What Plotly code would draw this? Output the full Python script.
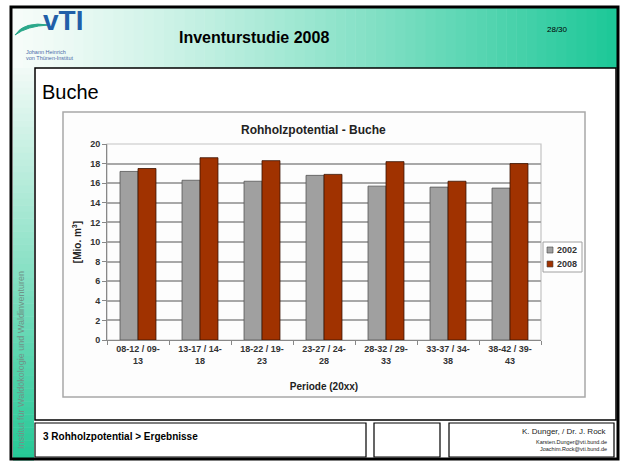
import plotly.graph_objects as go

W, H = 621, 462
L, R, T, B = 107, 80, 144, 122   # plot area 107..541 x 144..340

# data
perioden = ["08-12 / 09-<br>13", "13-17 / 14-<br>18", "18-22 / 19-<br>23", "23-27 / 24-<br>28",
            "28-32 / 29-<br>33", "33-37 / 34-<br>38", "38-42 / 39-<br>43"]
werte_2002 = [17.2, 16.3, 16.2, 16.8, 15.7, 15.6, 15.5]
werte_2008 = [17.5, 18.6, 18.3, 16.9, 18.2, 16.2, 18.0]
jahre = ["2002", "2008"]
farben = ["#a0a0a0", "#a03200"]
y_ticks = [0, 2, 4, 6, 8, 10, 12, 14, 16, 18, 20]

PW, PH = W - L - R, H - T - B


# pixel -> paper (paper is relative to the plot area in plotly)
def px(x):
    return (x - L) / PW


def py(y):
    return (H - B - y) / PH


def mix(c1, c2, t):
    return "rgb(%d,%d,%d)" % tuple(round(a + (b - a) * t) for a, b in zip(c1, c2))


fig = go.Figure()
fig.add_bar(x=perioden, y=werte_2002, name=jahre[0],
            marker=dict(color=farben[0], line=dict(color="#555555", width=0.8)))
fig.add_bar(x=perioden, y=werte_2008, name=jahre[1],
            marker=dict(color=farben[1], line=dict(color="#3a1200", width=0.8)))

shapes = []


def rect(x0, y0, x1, y1, **kw):
    d = dict(type="rect", xref="paper", yref="paper", layer="below",
             x0=px(x0), x1=px(x1), y0=py(y1), y1=py(y0))
    d.update(kw)
    shapes.append(d)


# header gradient (white -> teal)
n = 60
x0, x1 = 13, 617
for i in range(n):
    t = i / (n - 1)
    rect(x0 + (x1 - x0) * i / n, 7, x0 + (x1 - x0) * (i + 1) / n + 0.5, 68, line_width=0,
         fillcolor=mix((246, 252, 249), (30, 200, 152), t ** 1.2))
# left strip gradient (top white -> bottom teal)
y0, y1 = 68, 460
for i in range(n):
    t = i / (n - 1)
    rect(13, y0 + (y1 - y0) * i / n, 34, y0 + (y1 - y0) * (i + 1) / n + 0.5, line_width=0,
         fillcolor=mix((240, 250, 246), (38, 200, 150), t))
# outer frame
rect(11, 7, 618, 459, line=dict(color="black", width=3))
# content box
rect(35, 68, 616, 420, fillcolor="white", line=dict(color="black", width=1.5))
# chart frame
rect(63, 112, 585, 397, fillcolor="#fdfdfd", line=dict(color="#a8a8a8", width=1.5))
# plot area border (light)
rect(107, 144, 541, 340, line=dict(color="#c4c4c4", width=1.2))
# footer boxes
for a, b in [(35, 366), (374, 440), (449, 614)]:
    rect(a, 423, b, 457, fillcolor="white", line=dict(color="black", width=1.2))
# logo swoosh
shapes.append(dict(type="path", xref="paper", yref="paper", layer="below",
                   path="M %f,%f Q %f,%f %f,%f Q %f,%f %f,%f Z" % (
                       px(15), py(35), px(24), py(21), px(49), py(25),
                       px(27), py(26), px(15), py(35)),
                   fillcolor="#2aa88a", line=dict(color="#2aa88a", width=1)))
# legend box (drawn by hand so it stays as small as in the slide)
rect(543, 242, 582, 272, fillcolor="white", line=dict(color="#a0a0a0", width=1), layer="above")
for k, c in enumerate(farben):
    yc = 250 + k * 14
    rect(547, yc - 3, 553, yc + 3, fillcolor=c, line=dict(color="#444444", width=0.6), layer="above")
fig.update_layout(shapes=shapes)

ann = []


def text(s, x, y, size, color="black", bold=False, xanchor="center", angle=0, family="Arial"):
    ann.append(dict(text=s, x=px(x), y=py(y), xref="paper", yref="paper", showarrow=False,
                    xanchor=xanchor, yanchor="middle", textangle=angle,
                    font=dict(size=size, color=color, family=family,
                              weight="bold" if bold else "normal")))


text("vTI", 63, 20, 28, color="#1f5fa8", bold=True)
text("Johann Heinrich", 24, 52, 5.5, color="#4a6aa8", xanchor="left")
text("von Thünen-Institut", 24, 58, 5.5, color="#4a6aa8", xanchor="left")
text("Inventurstudie 2008", 254, 37, 16, bold=True)
text("28/30", 557, 30, 8)
text("Buche", 40, 92, 20, xanchor="left")
text("Institut für Waldökologie und Waldinventuren", 21, 360, 9, color="#6f9488", angle=-90)
text("Rohholzpotential - Buche", 313, 130, 12, color="#222222", bold=True)
for k, j in enumerate(jahre):
    text(j, 555, 250 + k * 14, 9, color="#333333", bold=True, xanchor="left")
text("3 Rohholzpotential > Ergebnisse", 41, 436, 10, bold=True, xanchor="left")
text("K. Dunger, / Dr. J. Rock", 609, 431, 8, color="#222222", xanchor="right")
text("Karsten.Dunger@vti.bund.de", 609, 442, 5.5, color="#222222", xanchor="right")
text("Joachim.Rock@vti.bund.de", 609, 449, 5.5, color="#222222", xanchor="right")
fig.update_layout(annotations=ann)

axis_font = dict(family="Arial", size=9, color="#333333", weight="bold")
fig.update_layout(
    width=W, height=H,
    margin=dict(l=L, r=R, t=T, b=B, pad=0),
    paper_bgcolor="white", plot_bgcolor="white",
    barmode="group", bargap=0.42, bargroupgap=0,
    showlegend=False,
    xaxis=dict(showline=True, linecolor="#888888", linewidth=1, mirror=False,
               ticks="outside", tickson="boundaries", ticklen=4, tickcolor="#888888",
               tickfont=axis_font, showgrid=False,
               title=dict(text="Periode (20xx)", standoff=18,
                          font=dict(family="Arial", size=10, color="#222222", weight="bold"))),
    yaxis=dict(range=[0, 20], tickvals=y_ticks, showline=True, linecolor="#888888", linewidth=1,
               ticks="outside", ticklen=4, tickcolor="#888888", tickfont=axis_font,
               showgrid=True, gridcolor="#a8a8a8", gridwidth=2, zeroline=False,
               title=dict(text="[Mio. m<sup>3</sup>]", standoff=6,
                          font=dict(family="Arial", size=10, color="#222222", weight="bold"))),
)

fig.write_html("out.html", config={"displayModeBar": False},
               post_script="document.body.style.margin='0';document.body.style.overflow='hidden';")
